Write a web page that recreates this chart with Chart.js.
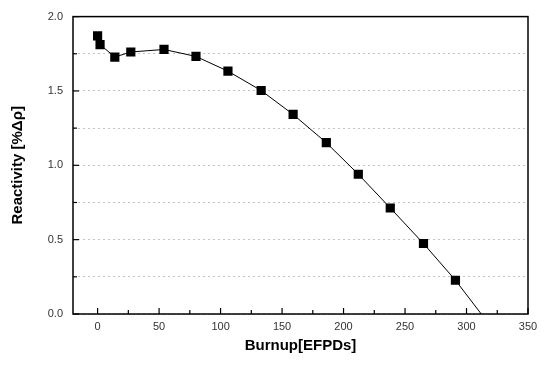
<!DOCTYPE html>
<html>
<head>
<meta charset="utf-8">
<script src="https://cdn.jsdelivr.net/npm/chart.js@4"></script>
<style>
  html, body { margin: 0; padding: 0; background: #fff; }
  #chart { display: block; }
</style>
</head>
<body>
<canvas id="chart" width="544" height="366"></canvas>
<script>
// Data
const burnup = [0, 2, 14, 27, 54, 80, 106, 133, 159, 186, 212, 238, 265, 291, 312];
const reactivity = [1.871, 1.812, 1.728, 1.762, 1.779, 1.732, 1.633, 1.503, 1.342, 1.152, 0.940, 0.713, 0.474, 0.227, 0];
// last point is only where the line meets the axis, no marker
const hasMarker = [true, true, true, true, true, true, true, true, true, true, true, true, true, true, false];

const xTicks = [0, 25, 50, 75, 100, 125, 150, 175, 200, 225, 250, 275, 300, 325, 350];
const yTicks = [0, 0.25, 0.5, 0.75, 1.0, 1.25, 1.5, 1.75, 2.0];

const tickFont = { family: 'Liberation Sans, Arial, sans-serif', size: 11 };
const titleFont = { family: 'Liberation Sans, Arial, sans-serif', size: 15, weight: 'bold' };

// frame and inward tick marks
const framePlugin = {
    id: 'frame',
    afterDraw(chart) {
        const ctx = chart.ctx;
        const a = chart.chartArea;
        const xs = chart.scales.x;
        const ys = chart.scales.y;
        ctx.save();
        ctx.strokeStyle = '#000';
        ctx.lineWidth = 1.2;
        xTicks.forEach(v => {
            const px = xs.getPixelForValue(v);
            const len = v % 50 === 0 ? 6 : 4;
            ctx.beginPath();
            ctx.moveTo(px, a.bottom);
            ctx.lineTo(px, a.bottom - len);
            ctx.stroke();
        });
        yTicks.forEach(v => {
            const py = ys.getPixelForValue(v);
            const len = Math.abs(v * 2 - Math.round(v * 2)) < 1e-6 ? 6 : 4;
            ctx.beginPath();
            ctx.moveTo(a.left, py);
            ctx.lineTo(a.left + len, py);
            ctx.stroke();
        });
        ctx.lineWidth = 1.5;
        ctx.strokeRect(a.left, a.top, a.right - a.left, a.bottom - a.top);
        ctx.restore();
    }
};

const ctx = document.getElementById('chart').getContext('2d');
new Chart(ctx, {
    type: 'scatter',
    data: {
        datasets: [{
            data: burnup.map((b, i) => ({ x: b, y: reactivity[i] })),
            showLine: true,
            borderColor: '#000',
            borderWidth: 1,
            tension: 0,
            pointStyle: 'rect',
            pointRadius: hasMarker.map(m => m ? 6.5 : 0),
            pointHoverRadius: 0,
            pointBackgroundColor: '#000',
            pointBorderColor: '#000',
            pointBorderWidth: 0
        }]
    },
    options: {
        responsive: false,
        animation: false,
        layout: { padding: { top: 11, right: 16, left: 0, bottom: 0 } },
        plugins: { legend: { display: false }, tooltip: { enabled: false } },
        scales: {
            x: {
                type: 'linear',
                min: -20,
                max: 350,
                afterBuildTicks: s => { s.ticks = xTicks.map(v => ({ value: v })); },
                afterFit: s => { s.height = 52; },
                grid: { display: false, drawTicks: false },
                border: { display: false },
                ticks: {
                    color: '#333',
                    font: tickFont,
                    padding: 6,
                    maxRotation: 0,
                    autoSkip: false,
                    callback: v => (v % 50 === 0 ? String(v) : '')
                },
                title: {
                    display: true,
                    text: 'Burnup[EFPDs]',
                    color: '#000',
                    font: titleFont,
                    padding: { top: 4, bottom: 11 }
                }
            },
            y: {
                min: 0,
                max: 2,
                afterBuildTicks: s => { s.ticks = yTicks.map(v => ({ value: v })); },
                afterFit: s => { s.width = 73; },
                grid: { color: '#c4c4c4', lineWidth: 1, drawTicks: false },
                border: { display: false, dash: [2, 3] },
                ticks: {
                    color: '#333',
                    font: tickFont,
                    padding: 10,
                    autoSkip: false,
                    callback: v => (Math.abs(v * 2 - Math.round(v * 2)) < 1e-6 ? v.toFixed(1) : '')
                },
                title: {
                    display: true,
                    text: 'Reactivity [%Δρ]',
                    color: '#000',
                    font: titleFont,
                    padding: { top: 9, bottom: 0 }
                }
            }
        }
    },
    plugins: [framePlugin]
});
</script>
</body>
</html>
